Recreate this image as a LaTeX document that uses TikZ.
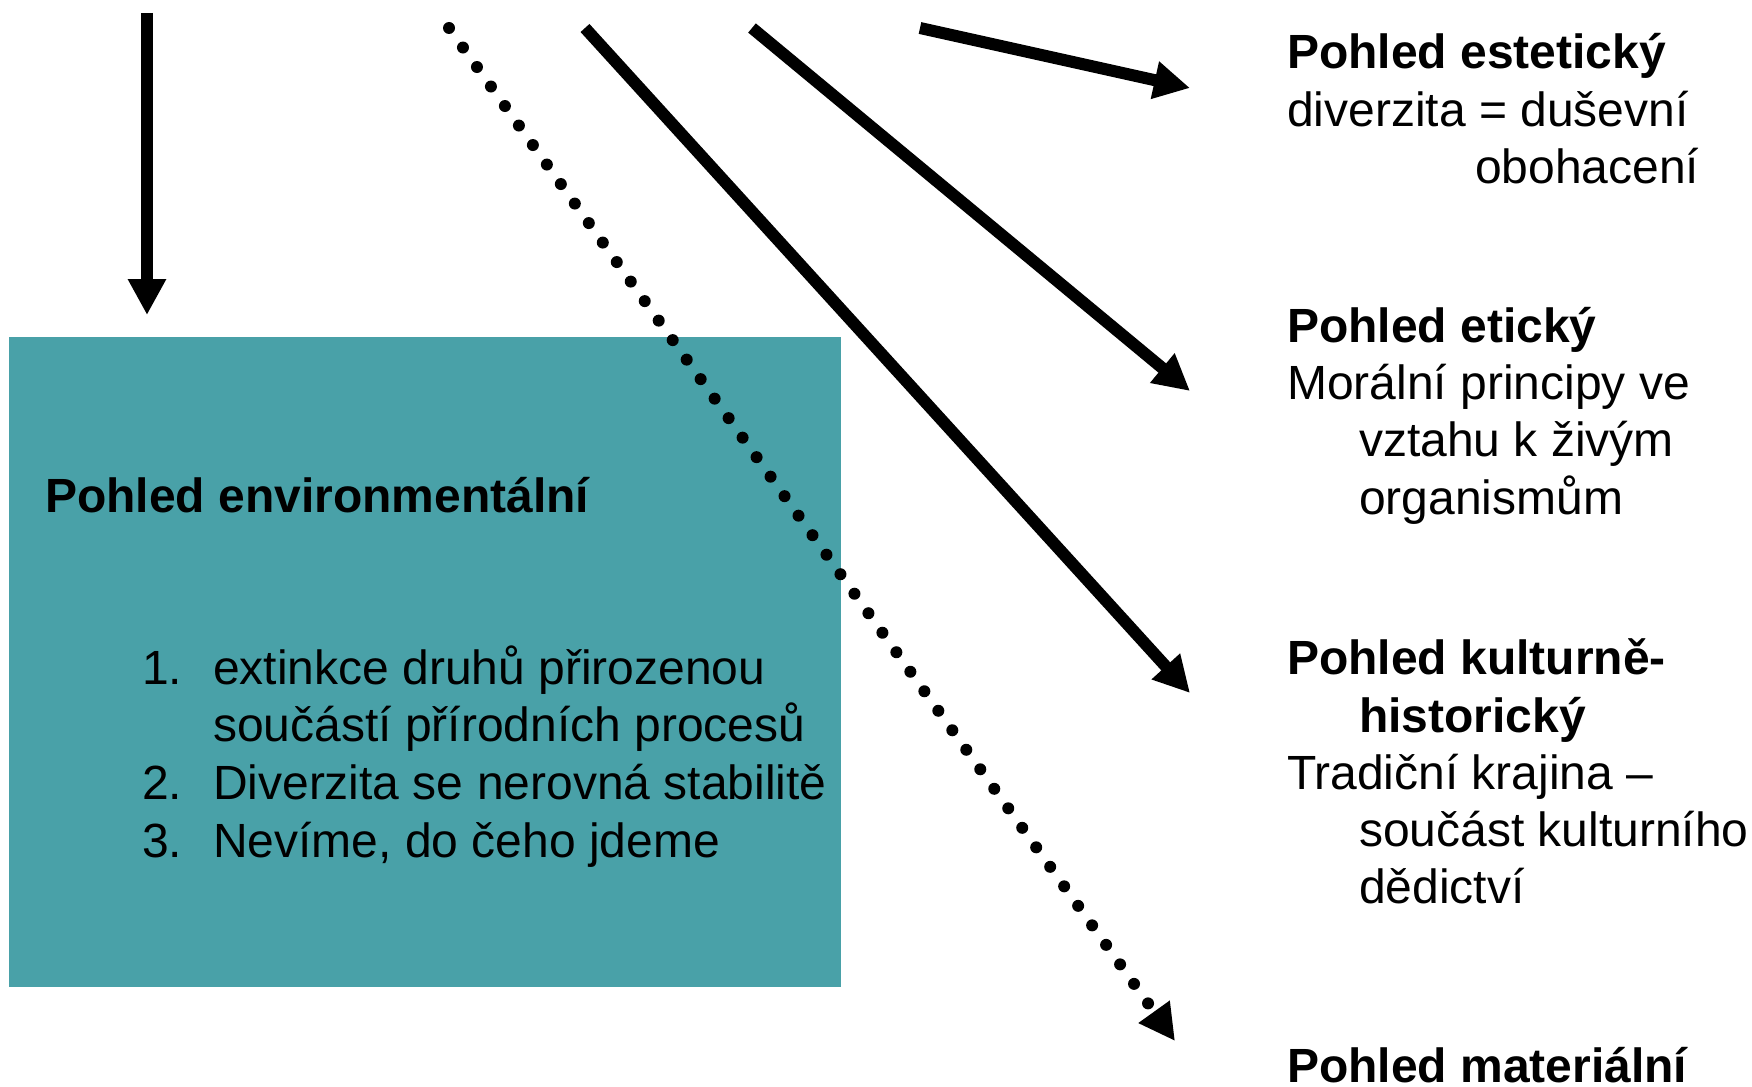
\documentclass[tikz,border=0pt]{standalone}
\usepackage{fontspec}
\setmainfont{Liberation Sans}
\usetikzlibrary{arrows.meta}
\definecolor{teal1}{RGB}{73,161,168}
\tikzset{
  x=1pt, y=-1pt,
  txt/.style={anchor=base west, inner sep=0pt, outer sep=0pt, font=\fontsize{48}{57}\selectfont},
  btxt/.style={txt, font=\fontsize{48}{57}\selectfont\bfseries},
  arr/.style={line width=12pt, -{Triangle[length=36pt,width=36pt]}},
  dotarr/.style={line width=12pt, line cap=round, dash pattern=on 0pt off 24pt, -{Triangle[length=36pt,width=36pt]}}
}
\begin{document}
\begin{tikzpicture}
\useasboundingbox (0,0) rectangle (1752,1086);
% box
\fill[teal1] (9,337) rectangle (841,987);
\node[btxt] (env) at (45,512) {Pohled environmentální};
\node[txt] (n1) at (142,684) {1.};
\node[txt] (i1a) at (213,684) {extinkce druhů přirozenou};
\node[txt] (i1b) at (213,741) {součástí přírodních procesů};
\node[txt] (n2) at (142,799) {2.};
\node[txt] (i2) at (213,799) {Diverzita se nerovná stabilitě};
\node[txt] (n3) at (142,857) {3.};
\node[txt] (i3) at (213,857) {Nevíme, do čeho jdeme};
% right texts
\node[btxt] (est) at (1287,69) {Pohled estetický};
\node[txt] (est1) at (1287,127) {diverzita = duševní};
\node[txt] (est2) at (1475,184) {obohacení};
\node[btxt] (eti) at (1287,342) {Pohled etický};
\node[txt] (eti1) at (1287,399) {Morální principy ve};
\node[txt] (eti2) at (1359,456) {vztahu k živým};
\node[txt] (eti3) at (1359,514) {organismům};
\node[btxt] (kul) at (1287,674) {Pohled kulturně-};
\node[btxt] (kul1) at (1359,732) {historický};
\node[txt] (kul2) at (1287,789) {Tradiční krajina –};
\node[txt] (kul3) at (1359,846) {součást kulturního};
\node[txt] (kul4) at (1359,903) {dědictví};
\node[btxt] (mat) at (1287,1082) {Pohled materiální};
% arrow coordinates
\coordinate (s0) at (147,13);
\coordinate (t0) at (147,315);
\coordinate (s1) at (449,28);
\coordinate (t1) at (1175,1041);
\coordinate (s2) at (585,28);
\coordinate (t2) at (1190,693);
\coordinate (s3) at (752,28);
\coordinate (t3) at (1190,391);
\coordinate (s4) at (920,28);
\coordinate (t4) at (1190,88);
\draw[arr] (s0) -- (t0);
\draw[dotarr] (s1) -- (t1);
\draw[arr] (s2) -- (t2);
\draw[arr] (s3) -- (t3);
\draw[arr] (s4) -- (t4);
\end{tikzpicture}
\end{document}
